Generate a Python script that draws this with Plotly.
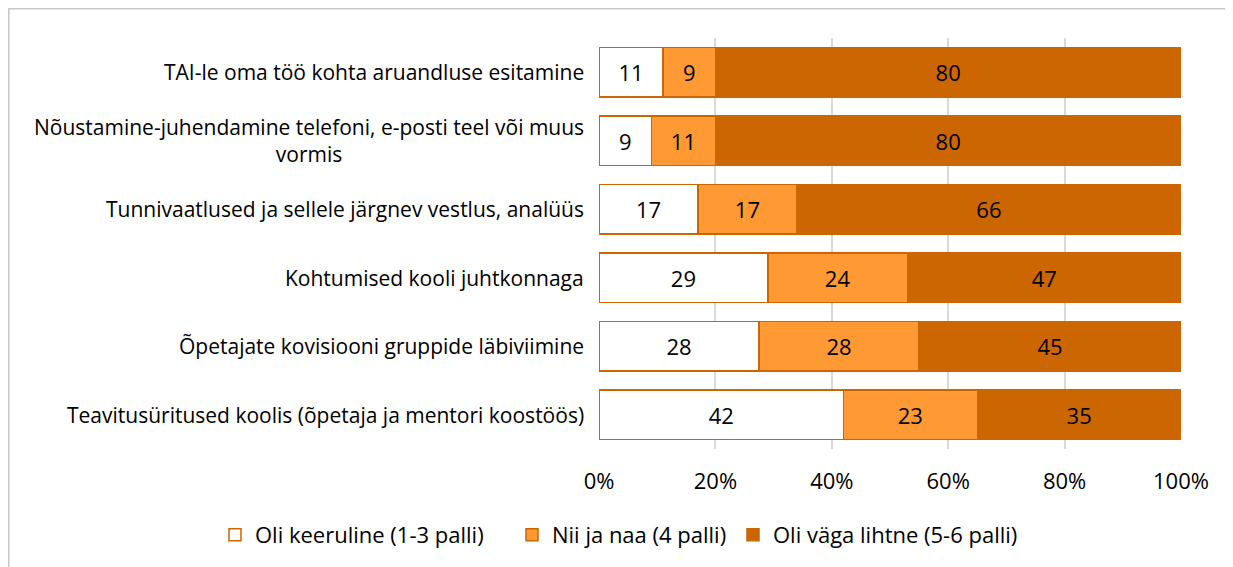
import plotly.graph_objects as go

categories = [
    "TAI-le oma töö kohta aruandluse esitamine",
    "Nõustamine-juhendamine telefoni, e-posti teel või muus<br>vormis",
    "Tunnivaatlused ja sellele järgnev vestlus, analüüs",
    "Kohtumised kooli juhtkonnaga",
    "Õpetajate kovisiooni gruppide läbiviimine",
    "Teavitusüritused koolis (õpetaja ja mentori koostöös)",
]
keeruline = [11, 9, 17, 29, 27.5, 42]
niijanaa = [9, 11, 17, 24, 27.5, 23]
lihtne = [80, 80, 66, 47, 45, 35]
series_names = ["Oli keeruline (1-3 palli)", "Nii ja naa (4 palli)", "Oli väga lihtne (5-6 palli)"]
tick_vals = [0, 20, 40, 60, 80, 100]
tick_text = ["0%", "20%", "40%", "60%", "80%", "100%"]

FONT = "Open Sans"
FS = 22
FS_CAT = 21
OFF = 8  # page body margin
W, H = 1233 - OFF, 567 - OFF
L, T = 599 - OFF, 38 - OFF
PR, PB = 1181 - OFF, 449 - OFF
R, B = W - PR, H - PB
pw, ph = PR - L, PB - T


def px_x(page_x):
    return (page_x - OFF - L) / pw


def px_y(page_y):
    return (PB - (page_y - OFF)) / ph


fills = ["#FFFFFF", "#FF9933", "#CC6600"]
line_c = "#CC6600"
legend_ids = ["legend", "legend2", "legend3"]
legend_page_x = [215, 512, 733]

fig = go.Figure()
for name, vals, col, lg in zip(series_names, [keeruline, niijanaa, lihtne], fills, legend_ids):
    fig.add_trace(go.Bar(
        y=categories, x=vals, name=name, orientation="h", legend=lg,
        marker=dict(color=col, line=dict(color=line_c, width=1.5)),
        texttemplate="%{x:.0f}", textposition="inside", insidetextanchor="middle",
        textfont=dict(family=FONT, size=FS, color="#000000"),
        constraintext="none", hoverinfo="skip",
    ))

for c in categories:
    fig.add_annotation(
        x=px_x(586), xref="paper", y=c, yref="y", text=c, showarrow=False,
        xanchor="right", yanchor="middle", align="center",
        font=dict(family=FONT, size=FS_CAT, color="#000000"),
    )

fig.add_shape(type="rect", xref="paper", yref="paper",
              x0=px_x(OFF + 0.75), x1=px_x(1250), y0=px_y(600), y1=px_y(OFF + 0.75),
              line=dict(color="#C8C8C8", width=1.5), fillcolor="rgba(0,0,0,0)", layer="below")

legend_common = dict(orientation="h", yanchor="middle", y=px_y(535), xanchor="left",
                     font=dict(family=FONT, size=FS, color="#000000"),
                     itemwidth=30, bgcolor="rgba(0,0,0,0)")

fig.update_layout(
    barmode="stack", bargap=0.28,
    width=W, height=H,
    margin=dict(l=L, r=R, t=T, b=B, autoexpand=False),
    paper_bgcolor="white", plot_bgcolor="white",
    font=dict(family=FONT, size=FS, color="#000000"),
    xaxis=dict(range=[0, 100], tickvals=tick_vals, ticktext=tick_text,
               showgrid=True, gridcolor="#D9D9D9", gridwidth=1.5,
               zeroline=False, showline=False, ticks="", ticklabelstandoff=17,
               tickfont=dict(family=FONT, size=FS, color="#000000"), fixedrange=True),
    yaxis=dict(autorange="reversed", showticklabels=False, showgrid=False,
               zeroline=False, showline=False, ticks="", fixedrange=True),
    legend=dict(x=px_x(legend_page_x[0]), **legend_common),
    legend2=dict(x=px_x(legend_page_x[1]), **legend_common),
    legend3=dict(x=px_x(legend_page_x[2]), **legend_common),
    showlegend=True,
)

fig.write_html("out.html")
